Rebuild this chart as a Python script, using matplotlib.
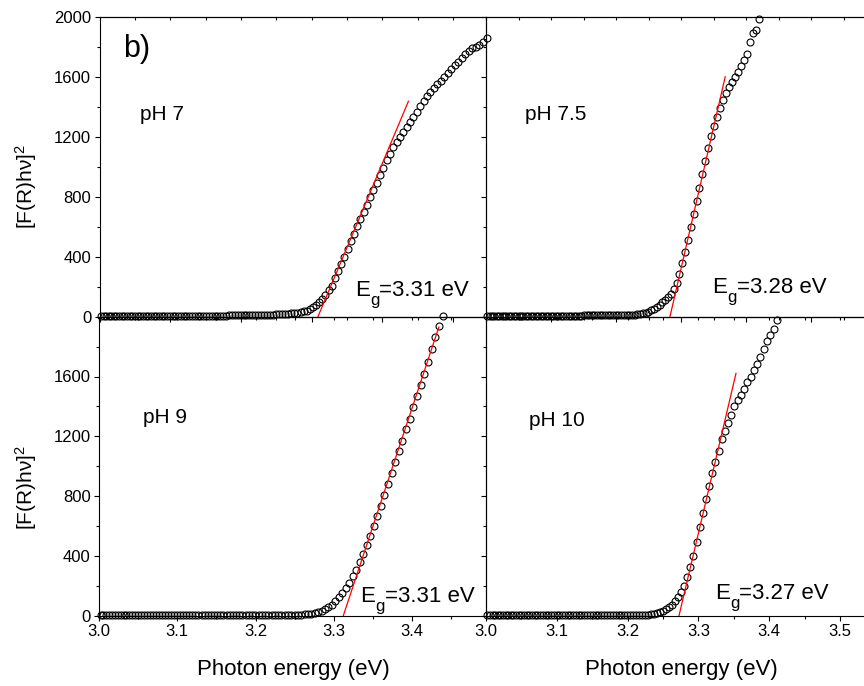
import numpy as np
import matplotlib
matplotlib.use("Agg")
import matplotlib.pyplot as plt
from matplotlib.ticker import MultipleLocator

plt.rcParams['font.family'] = ['Liberation Sans', 'DejaVu Sans']
plt.rcParams['mathtext.fontset'] = 'custom'
plt.rcParams['mathtext.rm'] = 'Liberation Sans'
plt.rcParams['mathtext.it'] = 'Liberation Sans:italic'

# measurement grid: 0.5 nm steps, converted to photon energy
wavelength = np.arange(413.0, 349.4, -0.5)
energy = 1239.84 / wavelength

# [F(R)hv]^2, one value per grid point
ph7 = [5, 5, 5, 5, 5, 5, 5, 5, 5, 5, 5, 5, 6, 6, 6, 6, 6, 6, 6, 6,
       6, 6, 6, 6, 6, 6, 7, 7, 7, 7, 7, 7, 7, 7, 7, 7, 7, 7, 8, 8,
       8, 8, 8, 8, 8, 8, 8, 9, 9, 9, 9, 9, 9, 9, 10, 10,
       10, 10, 11, 12, 12, 13, 14, 15, 16, 17, 19, 21, 23, 25, 27, 31, 36, 41, 49, 62,
       78, 97, 118, 144, 175, 208, 255, 302, 350, 400, 452, 503, 553, 603, 652, 700,
       748, 797, 845, 893, 945, 995, 1045, 1088, 1130, 1167, 1200, 1235, 1266, 1300,
       1333, 1368, 1405, 1440, 1472, 1500, 1527, 1552, 1575, 1600, 1625, 1651, 1677,
       1702, 1726, 1752, 1773, 1790, 1803, 1815, 1830, 1860]
ph75 = [6, 6, 6, 6, 6, 6, 6, 6, 6, 6, 6, 6, 6, 6, 6, 7, 7, 7, 7, 7,
        7, 7, 7, 7, 7, 7, 7, 7, 8, 8, 8, 8, 8, 8, 8, 8, 8, 8, 8, 9,
        9, 9, 9, 9, 9, 9, 9, 10, 10, 10, 10, 10, 10, 11, 11, 11,
        12, 13, 14, 16, 19, 23, 28, 34, 42, 53, 66, 80, 95, 112, 130, 152, 182, 225,
        285, 360, 435, 515, 598, 685, 775, 862, 952, 1040, 1125, 1205, 1270, 1330,
        1395, 1448, 1490, 1532, 1565, 1600, 1632, 1672, 1712, 1755, 1830, 1890, 1915, 1985]
ph9 = [3, 3, 3, 3, 3, 3, 3, 3, 3, 3, 3, 3, 3, 3, 3, 3, 3, 3, 3, 3,
       3, 3, 3, 3, 3, 3, 3, 3, 3, 3, 3, 3, 3, 3, 3, 3, 3, 3, 3, 3,
       4, 4, 4, 4, 4, 4, 4, 4, 4, 4, 4, 4, 4, 4, 4, 4,
       4, 4, 4, 5, 5, 5, 6, 6, 7, 8, 9, 11, 14, 18, 24, 31, 43, 56, 73, 95,
       122, 152, 182, 222, 265, 308, 356, 412, 470, 532, 598, 665, 735, 805, 880, 955,
       1030, 1105, 1170, 1250, 1318, 1395, 1470, 1545, 1618, 1700, 1783, 1865, 1940, 2005]
ph10 = [3, 3, 3, 3, 3, 3, 3, 3, 3, 3, 3, 3, 3, 3, 3, 3, 3, 3, 3, 3,
        3, 3, 3, 3, 3, 3, 3, 3, 3, 3, 3, 3, 3, 3, 3, 3, 3, 3, 3, 3,
        4, 4, 4, 4, 4, 4, 4, 4, 4, 4, 4, 4, 4, 4, 5, 5,
        5, 6, 8, 11, 14, 19, 25, 34, 45, 58, 74, 95, 125, 158, 200, 261, 326, 400,
        490, 595, 690, 780, 866, 952, 1030, 1105, 1180, 1235, 1290, 1340, 1400, 1445,
        1478, 1515, 1565, 1600, 1642, 1685, 1732, 1782, 1835, 1880, 1920, 1975]

# linear fits (start at Eg on the x axis)
fit7_x, fit7_y = [3.309, 3.437], [0, 1438]
fit75_x, fit75_y = [3.283, 3.368], [0, 1601]
fit9_x, fit9_y = [3.312, 3.434], [0, 1930]
fit10_x, fit10_y = [3.2726, 3.3531], [0, 1621]

ph_labels = ['pH 7', 'pH 7.5', 'pH 9', 'pH 10']
eg_labels = ['3.31', '3.28', '3.31', '3.27']

W, H = 864, 686
fig = plt.figure(figsize=(W / 100, H / 100), dpi=100)


def make_axes(left, right, top, bottom):
    return fig.add_axes([left / W, 1 - bottom / H, (right - left) / W, (bottom - top) / H])


panels = [
    # axes box (px), xlim right, data, fit, label positions
    dict(box=(99.5, 486, 17, 316.7), xmax=3.5467, y=ph7, fx=fit7_x, fy=fit7_y,
         ph=(3.057, 1315), eg=(3.361, 140), right=False, bottom=False),
    dict(box=(486, 864, 17, 316.7), xmax=3.5815, y=ph75, fx=fit75_x, fy=fit75_y,
         ph=(3.060, 1315), eg=(3.348, 160), right=True, bottom=False),
    dict(box=(99, 485.5, 316.7, 615.7), xmax=3.4936, y=ph9, fx=fit9_x, fy=fit9_y,
         ph=(3.056, 1291), eg=(3.334, 94), right=False, bottom=True),
    dict(box=(486, 864, 316.7, 615.7), xmax=3.5339, y=ph10, fx=fit10_x, fy=fit10_y,
         ph=(3.061, 1269), eg=(3.323, 110), right=True, bottom=True),
]

for i, p in enumerate(panels):
    ax = make_axes(*p['box'])
    n = len(p['y'])
    ax.plot(energy[:n], p['y'], 'o', mfc='none', mec='black', ms=5.0, mew=0.8,
            clip_on=False, zorder=3)
    ax.plot(p['fx'], p['fy'], color='red', lw=0.9, zorder=4)
    ax.set_xlim(3.0, p['xmax'])
    ax.set_ylim(0, 2000)
    ax.patch.set_alpha(0)

    ax.xaxis.set_major_locator(MultipleLocator(0.1))
    ax.xaxis.set_minor_locator(MultipleLocator(0.05))
    if p['bottom']:
        ax.set_yticks([0, 400, 800, 1200, 1600])
    else:
        ax.set_yticks([0, 400, 800, 1200, 1600, 2000])
    ax.yaxis.set_minor_locator(MultipleLocator(200))
    ax.tick_params(which='major', direction='out', length=3.6, width=0.8,
                   labelsize=12, pad=2.4)
    ax.tick_params(which='minor', direction='out', length=2.2, width=0.8)
    ax.tick_params(labelbottom=p['bottom'], labelleft=not p['right'])
    ax.xaxis.set_major_formatter(matplotlib.ticker.FormatStrFormatter('%.1f'))
    for s in ax.spines.values():
        s.set_linewidth(0.8)
    if p['right']:
        ax.spines['right'].set_visible(False)

    top = ax.secondary_xaxis('top')
    top.xaxis.set_major_locator(MultipleLocator(0.1))
    top.xaxis.set_minor_locator(MultipleLocator(0.05))
    top.tick_params(which='both', direction='in', length=2.2, width=0.8, labeltop=False)
    top.spines['top'].set_linewidth(0.8)

    ax.text(p['ph'][0], p['ph'][1], ph_labels[i], fontsize=15, ha='left', va='baseline')
    # E, lowered subscript g, then the value
    ax.annotate('E', p['eg'], fontsize=16, ha='left', va='baseline')
    ax.annotate('g', p['eg'], xytext=(10.9, -6.5), textcoords='offset points',
                fontsize=12, ha='left', va='baseline')
    ax.annotate('=' + eg_labels[i] + ' eV', p['eg'], xytext=(17.6, 0),
                textcoords='offset points', fontsize=16, ha='left', va='baseline')
    if i == 0:
        ax.text(3.033, 1735, 'b)', fontsize=22, ha='left', va='baseline')

ylab = '[F(R)h\u03bd]$^{\\mathregular{2}}$'
fig.text(26 / W, 1 - 187 / H, ylab, rotation=90, fontsize=15, ha='center', va='center')
fig.text(26 / W, 1 - 488 / H, ylab, rotation=90, fontsize=15, ha='center', va='center')
fig.text(293 / W, 1 - 670 / H, 'Photon energy (eV)', fontsize=16, ha='center', va='center')
fig.text(681 / W, 1 - 670 / H, 'Photon energy (eV)', fontsize=16, ha='center', va='center')

fig.savefig('out.png', dpi=100)
